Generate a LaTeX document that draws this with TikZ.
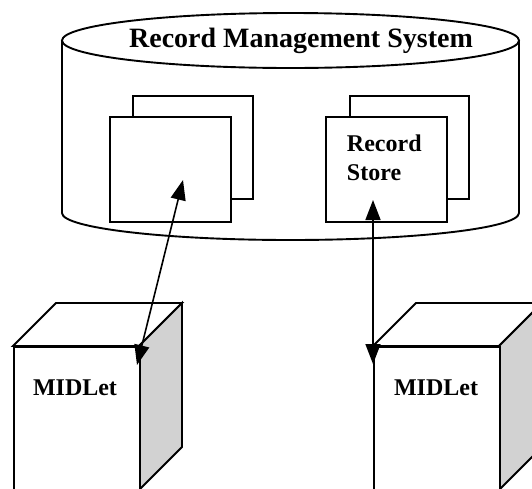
\documentclass[tikz,border=0pt]{standalone}
\usepackage{fontspec}
\setmainfont{Liberation Serif}
\usetikzlibrary{arrows.meta}
\begin{document}
\begin{tikzpicture}[x=1pt,y=-1pt,
  line width=1.9pt, line join=miter,
  page/.style={draw, fill=white},
  label/.style={font=\bfseries\fontsize{24}{29}\selectfont, inner sep=0pt, align=left},
  title/.style={font=\bfseries\fontsize{28}{32}\selectfont, inner sep=0pt},
  shade/.style={draw, fill=gray!35},
  link/.style={{Triangle[length=20pt,width=15pt]}-{Triangle[length=20pt,width=15pt]}, line width=1.6pt}]
\useasboundingbox (0,0) rectangle (532,488);
\clip (0,0) rectangle (532,488);

% the storage cylinder
\path[draw, fill=white] (62,40.5) -- (62,213) arc[start angle=180, end angle=360, x radius=228.5, y radius=-27] -- (519,40.5);
\draw[fill=white] (290.5,40.5) ellipse[x radius=228.5, y radius=27.5];
\node[title] (rms) at (301,41) {Record Management System};

% left record store stack
\draw[page] (133,96) rectangle (253,199);
\node[page, minimum width=121pt, minimum height=105pt, inner sep=0pt, anchor=north west] (lstore) at (109,116) {};
\coordinate (ltip) at (183,180);

% right record store stack
\draw[page] (350,96) rectangle (469,199);
\node[page, minimum width=121pt, minimum height=105pt, inner sep=0pt, anchor=north west] (rstore) at (325,116) {};
\node[label, anchor=west] (rtext) at (346,158) {Record\\Store};
\coordinate (rtip) at (373,200);

% left MIDlet block
\draw[page] (13,346) -- (56,303) -- (182,303) -- (139,346) -- cycle;
\draw[shade] (139,346) -- (182,303) -- (182,447) -- (139,490) -- cycle;
\node[page, minimum width=126pt, minimum height=150pt, inner sep=0pt, anchor=north west] (lmid) at (13,346) {};
\node[label] (ltext) at (75,388) {MIDLet};
\coordinate (lmidtip) at (137,365);

% right MIDlet block
\draw[page] (373,346) -- (416,303) -- (542,303) -- (499,346) -- cycle;
\draw[shade] (499,346) -- (542,303) -- (542,447) -- (499,490) -- cycle;
\node[page, minimum width=126pt, minimum height=150pt, inner sep=0pt, anchor=north west] (rmid) at (373,346) {};
\node[label] (rtext2) at (436,388) {MIDLet};
\coordinate (rmidtip) at (373,364);

% access links
\draw[link] (lmidtip) -- (ltip);
\draw[link] (rmidtip) -- (rtip);
\end{tikzpicture}
\end{document}
